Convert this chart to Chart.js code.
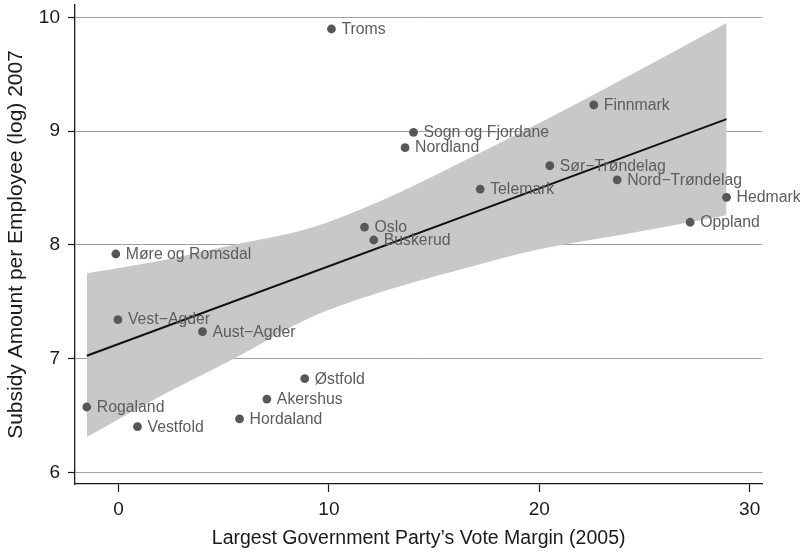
<!DOCTYPE html>
<html>
<head>
<meta charset="utf-8">
<title>Subsidy amount and government vote margin</title>
<script src="https://cdn.jsdelivr.net/npm/chart.js@4.4.1/dist/chart.umd.min.js"></script>
<style>
  html, body { margin: 0; padding: 0; background: #ffffff; }
  #wrap { width: 800px; height: 552px; }
</style>
</head>
<body>
<div id="wrap"><canvas id="chart" width="800" height="552"></canvas></div>
<script>
// Norwegian counties: vote margin of the largest government party (2005)
// against log subsidy amount per employee (2007)
const counties = [
  "Troms", "Sogn og Fjordane", "Nordland", "Oslo", "Buskerud",
  "Finnmark", "Sør\u2212Trøndelag", "Telemark", "Nord\u2212Trøndelag", "Hedmark",
  "Oppland", "Møre og Romsdal", "Vest\u2212Agder", "Aust\u2212Agder", "Østfold",
  "Akershus", "Hordaland", "Rogaland", "Vestfold"
];
const voteMargin = [
  10.12, 14.02, 13.62, 11.69, 12.13,
  22.59, 20.50, 17.19, 23.70, 28.90,
  27.17, -0.13, -0.03, 3.99, 8.85,
  7.05, 5.75, -1.51, 0.90
];
const subsidyLog = [
  9.897, 8.989, 8.854, 8.156, 8.042,
  9.229, 8.695, 8.490, 8.570, 8.417,
  8.198, 7.919, 7.342, 7.236, 6.823,
  6.644, 6.469, 6.574, 6.401
];

// Fitted line end points
const fitX = [-1.51, 28.90];
const fitY = [7.025, 9.105];

// Confidence band around the fit
const bandX    = [-1.51, 2.0, 5.5, 9.0, 12.4, 16.0, 20.0, 24.0, 28.90];
const bandLow  = [6.31, 6.67, 7.00, 7.35, 7.58, 7.77, 7.96, 8.09, 8.26];
const bandHigh = [7.75, 7.86, 8.00, 8.14, 8.38, 8.70, 9.07, 9.46, 9.95];

const xTicks = [0, 10, 20, 30];
const yTicks = [6, 7, 8, 9, 10];

const toXY = (xs, ys) => xs.map((v, i) => ({ x: v, y: ys[i] }));

const FONT = '"Liberation Sans", Arial, Helvetica, sans-serif';

// County names written to the right of each point
const nameLabels = {
  id: 'nameLabels',
  afterDatasetsDraw(chart) {
    const { ctx, scales: { x, y } } = chart;
    ctx.save();
    ctx.font = '15.8px ' + FONT;
    ctx.fillStyle = '#5c5c5c';
    ctx.textAlign = 'left';
    ctx.textBaseline = 'middle';
    counties.forEach((name, i) => {
      const px = x.getPixelForValue(voteMargin[i]);
      const py = y.getPixelForValue(subsidyLog[i]);
      ctx.fillText(name, px + 10, py + 0.5);
    });
    ctx.restore();
  }
};

new Chart(document.getElementById('chart'), {
  type: 'scatter',
  data: {
    datasets: [
      {
        data: toXY(bandX, bandLow),
        showLine: true,
        borderWidth: 0,
        pointRadius: 0,
        cubicInterpolationMode: 'monotone',
        fill: false,
        order: 4
      },
      {
        data: toXY(bandX, bandHigh),
        showLine: true,
        borderWidth: 0,
        pointRadius: 0,
        cubicInterpolationMode: 'monotone',
        backgroundColor: '#c8c8c9',
        fill: 0,
        order: 3
      },
      {
        data: toXY(fitX, fitY),
        showLine: true,
        borderColor: '#111111',
        borderWidth: 2,
        pointRadius: 0,
        fill: false,
        order: 1
      },
      {
        data: toXY(voteMargin, subsidyLog),
        pointRadius: 4.4,
        pointBackgroundColor: '#575757',
        pointBorderWidth: 0,
        order: 0
      }
    ]
  },
  options: {
    responsive: false,
    devicePixelRatio: 1,
    animation: false,
    layout: { padding: { top: 5, right: 37.7, left: 0, bottom: 0 } },
    plugins: {
      legend: { display: false },
      tooltip: { enabled: false }
    },
    scales: {
      x: {
        type: 'linear',
        min: -2.07,
        max: 30.6,
        afterBuildTicks: s => { s.ticks = xTicks.map(v => ({ value: v })); },
        afterFit: s => { s.height = 68; s.paddingLeft = 0; s.paddingRight = 0; },
        border: { display: true, color: '#1a1a1a', width: 1.3 },
        grid: { display: true, drawOnChartArea: false, drawTicks: true, tickLength: 8, tickColor: '#1a1a1a', tickWidth: 1.2 },
        ticks: { color: '#1a1a1a', font: { family: FONT, size: 19 }, padding: 6, maxRotation: 0 },
        title: {
          display: true,
          text: 'Largest Government Party\u2019s Vote Margin (2005)',
          color: '#1a1a1a',
          font: { family: FONT, size: 19.5 },
          padding: { top: 0, bottom: 2 }
        }
      },
      y: {
        type: 'linear',
        min: 5.897,
        max: 10.108,
        afterBuildTicks: s => { s.ticks = yTicks.map(v => ({ value: v })); },
        afterFit: s => { s.width = 75; s.paddingTop = 0; s.paddingBottom = 0; },
        border: { display: true, color: '#1a1a1a', width: 1.3 },
        grid: { color: '#a0a0a0', lineWidth: 1, drawTicks: true, tickLength: 7, tickColor: '#1a1a1a', tickWidth: 1.2 },
        ticks: { color: '#1a1a1a', font: { family: FONT, size: 19 }, padding: 8 },
        title: {
          display: true,
          text: 'Subsidy Amount per Employee (log) 2007',
          color: '#1a1a1a',
          font: { family: FONT, size: 21 },
          padding: { top: 3.5, bottom: 0 }
        }
      }
    }
  },
  plugins: [nameLabels]
});
</script>
</body>
</html>
